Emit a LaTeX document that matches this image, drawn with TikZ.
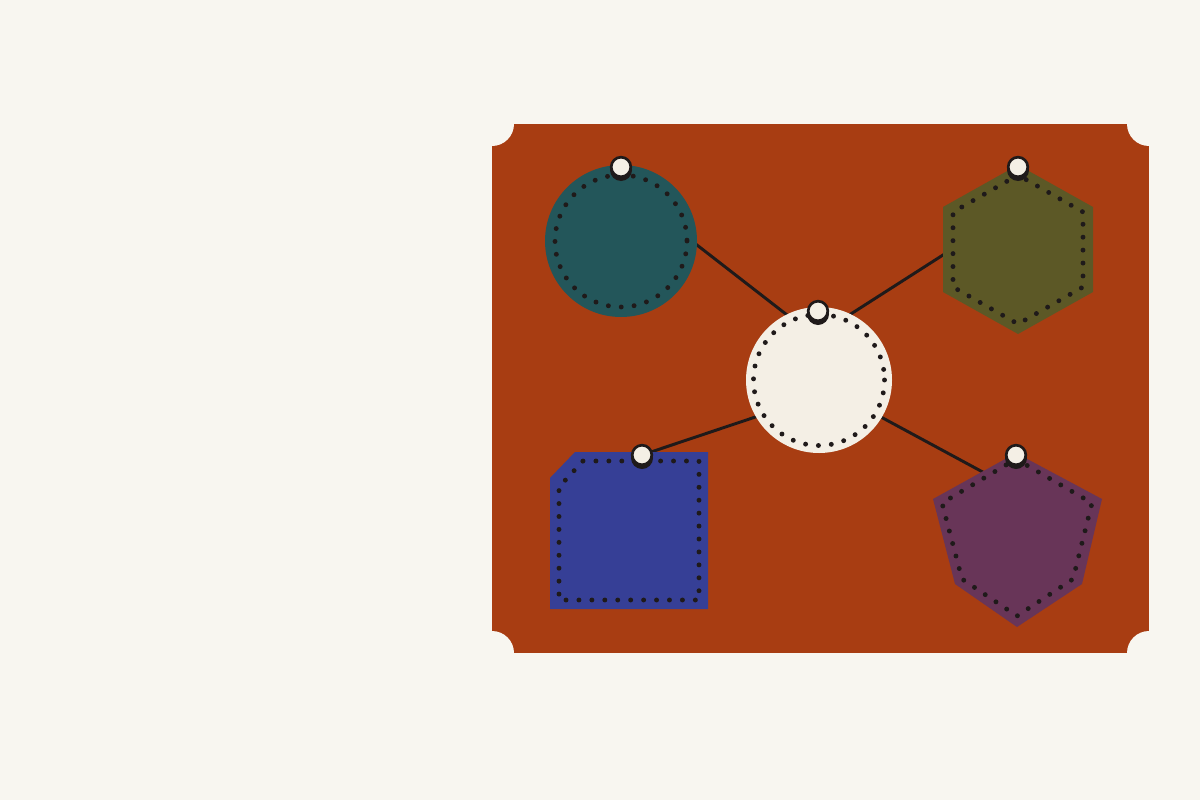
\documentclass[tikz,border=0pt]{standalone}
\definecolor{bgc}{HTML}{F8F6F0}
\definecolor{board}{HTML}{A83D12}
\definecolor{teal}{HTML}{23565A}
\definecolor{olive}{HTML}{5C5826}
\definecolor{bluesq}{HTML}{363F96}
\definecolor{plum}{HTML}{683558}
\definecolor{cream}{HTML}{F4EFE5}
\definecolor{ink}{HTML}{1F1A1A}
\tikzset{
  stitch/.style={draw=ink, line width=7pt, line cap=round, dash pattern=on 0pt off 18.4pt},
  link/.style={draw=ink, line width=4.2pt},
  pinhead/.style={fill=cream, draw=ink, line width=3.8pt},
  pinshadow/.style={fill=ink},
}
\begin{document}
\begin{tikzpicture}[x=0.05cm, y=-0.05cm]
\useasboundingbox (0,0) rectangle (1200,800);
\fill[bgc] (0,0) rectangle (1200,800);
% board with notched corners
\fill[board] (492,124) rectangle (1149,653);
\fill[bgc] (492,124) circle (22) (1149,124) circle (22) (1149,653) circle (22) (492,653) circle (22);
% connector endpoints
\coordinate (tA) at (621,186);
\coordinate (cA) at (818,339);
\coordinate (hA) at (1018,207);
\coordinate (cB) at (818,335);
\coordinate (bA) at (642,455);
\coordinate (cC) at (818,396);
\coordinate (pA) at (1016,490);
\coordinate (cD) at (818,383);
\draw[link] (tA) -- (cA);
\draw[link] (hA) -- (cB);
\draw[link] (bA) -- (cC);
\draw[link] (pA) -- (cD);
% teal circle
\fill[teal] (621,241) circle (76);
\path[stitch] (621,241) circle (66);
% olive hexagon
\fill[olive] (1018,165) -- (943,207) -- (943,292) -- (1018,334) -- (1093,292) -- (1093,207) -- cycle;
\path[stitch] (1018,175) -- (953,212) -- (953,287) -- (1018,324) -- (1083,287) -- (1083,212) -- cycle;
% center circle
\fill[cream] (819,380) circle (73);
\path[stitch] (819,380) circle (65.5);
% blue square
\fill[bluesq] (575,452) -- (708,452) -- (708,609) -- (550,609) -- (550,478) -- cycle;
\path[stitch] (583,461) -- (699,461) -- (699,600) -- (559,600) -- (559,487) -- cycle;
% plum shield
\fill[plum] (1016,453) -- (1102,499) -- (1082,584) -- (1017,627) -- (955,584) -- (933,499) -- cycle;
\path[stitch] (1016,459) -- (1092,503) -- (1073,579) -- (1017,616) -- (962,579) -- (942,503) -- cycle;
% pins
\foreach \n/\px/\py in {pt/621/167, ph/1018/167, pc/818/311, pb/642/455, pp/1016/455}{
  \fill[pinshadow] (\px,\py+3) circle (11);
  \path[pinhead] (\px,\py) circle (9.8);
}
\end{tikzpicture}
\end{document}
